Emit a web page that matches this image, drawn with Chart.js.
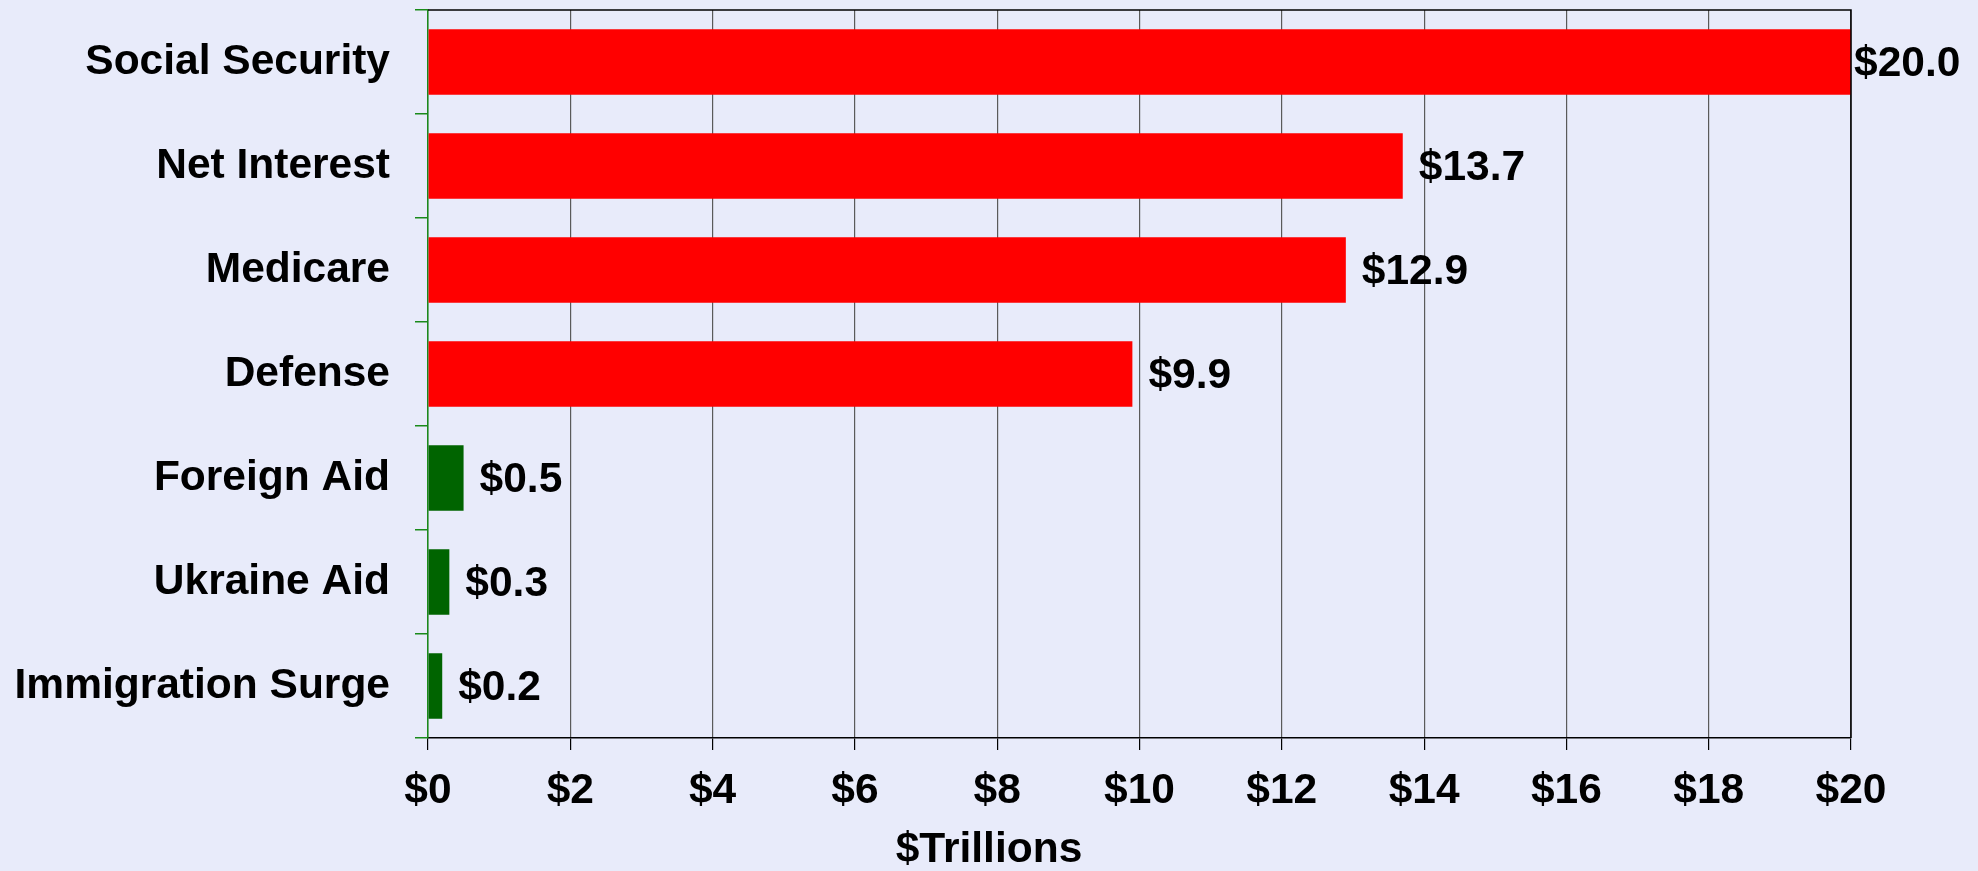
<!DOCTYPE html>
<html>
<head>
<meta charset="utf-8">
<script src="https://cdn.jsdelivr.net/npm/chart.js@4/dist/chart.umd.min.js"></script>
<style>
  html, body { margin: 0; padding: 0; background: #e8ebfa; }
  #wrap { width: 1978px; height: 871px; position: relative; }
</style>
</head>
<body>
<div id="wrap"><canvas id="spendChart"></canvas></div>
<script>
// Ten-year spending, $ trillions
var categories = ["Social Security", "Net Interest", "Medicare", "Defense",
                  "Foreign Aid", "Ukraine Aid", "Immigration Surge"];
var values = [20.0, 13.7, 12.9, 9.9, 0.5, 0.3, 0.2];
var barColors = ["#ff0000", "#ff0000", "#ff0000", "#ff0000",
                 "#006400", "#006400", "#006400"];
var xTicks = [0, 2, 4, 6, 8, 10, 12, 14, 16, 18, 20];
var xTitle = "$Trillions";

var FONT = "'Liberation Sans', Arial, sans-serif";
var FSIZE = 42.5;

// value labels at bar ends, plus plot frame and axis title
var extrasPlugin = {
  id: "extras",
  afterDatasetsDraw: function (chart) {
    var ctx = chart.ctx;
    var area = chart.chartArea;
    var meta = chart.getDatasetMeta(0);
    ctx.save();
    ctx.font = "bold " + FSIZE + "px " + FONT;
    ctx.fillStyle = "#000";
    ctx.textBaseline = "middle";
    ctx.textAlign = "left";
    meta.data.forEach(function (bar, i) {
      var text = "$" + values[i].toFixed(1);
      var w = ctx.measureText(text).width;
      // pull the label in when it would run off the right edge
      var x = Math.max(bar.x + 3, Math.min(bar.x + 16, chart.width - 22 - w));
      ctx.fillText(text, x, bar.y + 2);
    });

    // top and right border of the plot
    ctx.strokeStyle = "#000";
    ctx.lineWidth = 1.5;
    ctx.beginPath();
    ctx.moveTo(area.left, area.top);
    ctx.lineTo(area.right, area.top);
    ctx.lineTo(area.right, area.bottom);
    ctx.stroke();

    // axis title centred on the page
    ctx.textAlign = "center";
    ctx.fillText(xTitle, chart.width / 2, 850);
    ctx.restore();
  }
};

new Chart(document.getElementById("spendChart"), {
  type: "bar",
  data: {
    labels: categories,
    datasets: [{
      data: values,
      backgroundColor: barColors,
      borderWidth: 0,
      barPercentage: 0.63,
      categoryPercentage: 1.0
    }]
  },
  options: {
    indexAxis: "y",
    responsive: true,
    maintainAspectRatio: false,
    animation: false,
    layout: { padding: { top: 10, right: 127, left: 0, bottom: 0 } },
    plugins: {
      legend: { display: false },
      tooltip: { enabled: false }
    },
    scales: {
      x: {
        min: 0,
        max: 20,
        afterBuildTicks: function (scale) {
          scale.ticks = xTicks.map(function (v) { return { value: v }; });
        },
        afterFit: function (scale) {
          scale.height = 133;
          scale.paddingLeft = 0;
          scale.paddingRight = 0;
        },
        ticks: {
          color: "#000",
          padding: 16,
          font: { family: FONT, size: FSIZE, weight: "bold" },
          callback: function (v) { return "$" + v; }
        },
        grid: {
          color: "#5a5a5a",
          lineWidth: 1.2,
          tickColor: "#000",
          tickLength: 12
        },
        border: { color: "#000", width: 1.5 }
      },
      y: {
        afterFit: function (scale) {
          scale.width = 428;
          scale.paddingTop = 0;
          scale.paddingBottom = 0;
        },
        ticks: {
          color: "#000",
          padding: 25,
          font: { family: FONT, size: FSIZE, weight: "bold" }
        },
        grid: {
          offset: true,
          drawOnChartArea: false,
          tickColor: "#1a8a1a",
          tickLength: 13,
          lineWidth: 1.5
        },
        border: { color: "#1a8a1a", width: 1.5 }
      }
    }
  },
  plugins: [extrasPlugin]
});
</script>
</body>
</html>
